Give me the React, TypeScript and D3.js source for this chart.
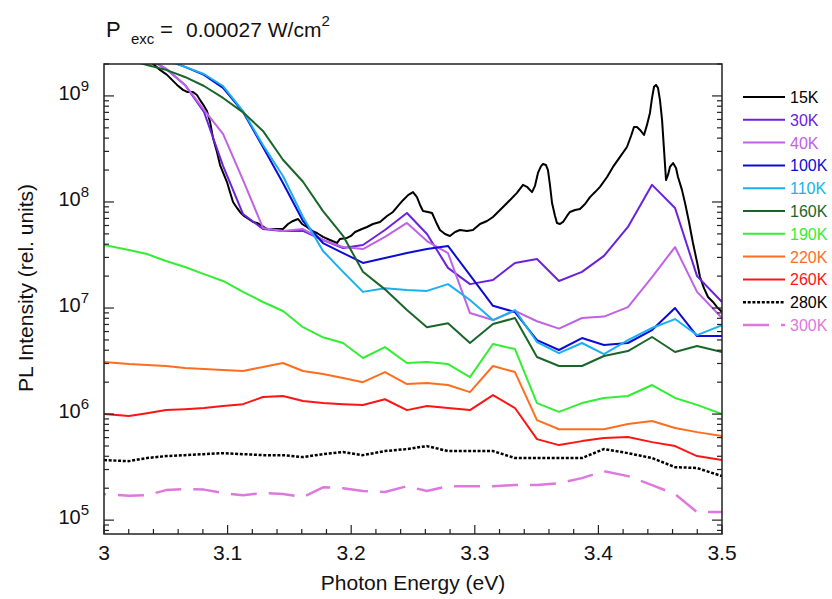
import React from 'react';
import * as d3 from 'd3';

// Shared photon-energy grid (eV) of the 30K–300K spectra
const energyGrid = [3.0, 3.0202, 3.0348, 3.0502, 3.0655, 3.0809, 3.0963, 3.1125, 3.1286, 3.1448, 3.161, 3.1772, 3.1934, 3.2095, 3.2273, 3.2451, 3.2613, 3.2783, 3.2961, 3.3147, 3.3325, 3.3503, 3.3681, 3.3867, 3.4045, 3.4239, 3.4434, 3.462, 3.4798, 3.5];

// 15K spectrum (high resolution)
const energy15K = [3.0291, 3.0388, 3.0453, 3.051, 3.0591, 3.0639, 3.0672, 3.072, 3.0752, 3.0777, 3.0809, 3.0833, 3.0858, 3.0882, 3.0914, 3.0939, 3.0971, 3.0995, 3.1019, 3.1044, 3.1076, 3.11, 3.1133, 3.1157, 3.1206, 3.1238, 3.1278, 3.1319, 3.1383, 3.1448, 3.1489, 3.1529, 3.157, 3.1602, 3.1642, 3.1683, 3.1723, 3.1772, 3.1828, 3.1885, 3.1909, 3.1966, 3.1998, 3.2031, 3.2087, 3.2128, 3.2176, 3.2233, 3.229, 3.2338, 3.2379, 3.2419, 3.246, 3.25, 3.2532, 3.2557, 3.2581, 3.2621, 3.2654, 3.2686, 3.2718, 3.2759, 3.2799, 3.284, 3.288, 3.2937, 3.2985, 3.3042, 3.3099, 3.3147, 3.3204, 3.3261, 3.3301, 3.3341, 3.339, 3.3422, 3.3463, 3.3487, 3.3511, 3.3536, 3.3552, 3.3576, 3.3592, 3.3608, 3.3625, 3.3649, 3.3665, 3.3689, 3.3714, 3.3746, 3.377, 3.3811, 3.3851, 3.3892, 3.3932, 3.3973, 3.4013, 3.407, 3.4118, 3.4175, 3.4231, 3.4264, 3.4288, 3.4312, 3.4337, 3.4369, 3.4393, 3.4417, 3.4434, 3.445, 3.4466, 3.4482, 3.4498, 3.4515, 3.4531, 3.4547, 3.4563, 3.4579, 3.4604, 3.4628, 3.4644, 3.4676, 3.4701, 3.4733, 3.4765, 3.4798, 3.4822, 3.4854, 3.4887, 3.4927, 3.496, 3.5];
const pl15K = [2.44e9, 2.05e9, 1.76e9, 1.58e9, 1.27e9, 1.14e9, 1.09e9, 1.09e9, 1.02e9, 9.17e8, 8.05e8, 7.22e8, 5.69e8, 4.02e8, 2.96e8, 2.23e8, 1.8e8, 1.54e8, 1.24e8, 1.0e8, 8.78e7, 8.05e7, 7.38e7, 7.06e7, 6.48e7, 6.34e7, 5.94e7, 5.56e7, 5.56e7, 5.56e7, 6.2e7, 6.62e7, 6.91e7, 6.2e7, 5.81e7, 5.33e7, 5.1e7, 4.68e7, 4.38e7, 4.1e7, 4.48e7, 4.58e7, 4.78e7, 5.21e7, 5.56e7, 5.81e7, 6.2e7, 6.48e7, 7.38e7, 8.05e7, 9.17e7, 1.04e8, 1.16e8, 1.24e8, 1.11e8, 9.37e7, 8.22e7, 8.05e7, 7.87e7, 6.48e7, 5.44e7, 4.99e7, 4.78e7, 5.21e7, 5.44e7, 5.33e7, 5.44e7, 6.2e7, 6.62e7, 7.22e7, 8.4e7, 9.78e7, 1.09e8, 1.22e8, 1.45e8, 1.39e8, 1.24e8, 1.42e8, 1.88e8, 2.18e8, 2.28e8, 2.23e8, 2.0e8, 1.45e8, 9.78e7, 7.38e7, 6.34e7, 6.2e7, 6.48e7, 7.38e7, 8.05e7, 8.4e7, 8.59e7, 9.57e7, 1.11e8, 1.24e8, 1.39e8, 1.72e8, 2.14e8, 2.66e8, 3.3e8, 4.19e8, 5.1e8, 5.1e8, 4.78e8, 4.28e8, 5.33e8, 6.91e8, 9.57e8, 1.22e9, 1.27e9, 1.19e9, 9.17e8, 5.94e8, 3.1e8, 1.61e8, 1.8e8, 2.14e8, 2.33e8, 2.09e8, 1.72e8, 1.3e8, 9.78e7, 6.48e7, 4.1e7, 2.72e7, 1.96e7, 1.54e7, 1.27e7, 1.14e7, 1.02e7, 9.17e6];

const pl30K = [3.4e9, 2.7e9, 2.28e9, 1.8e9, 1.27e9, 7.06e8, 2.19e8, 7.7e7, 5.56e7, 5.33e7, 5.33e7, 4.38e7, 3.68e7, 3.93e7, 5.44e7, 7.87e7, 4.99e7, 2.39e7, 1.68e7, 1.84e7, 2.66e7, 2.9e7, 1.8e7, 2.19e7, 3.1e7, 5.81e7, 1.45e8, 8.78e7, 2.0e7, 1.14e7];
const pl40K = [3.4e9, 2.7e9, 2.28e9, 1.8e9, 1.27e9, 7.38e8, 4.38e8, 1.61e8, 5.69e7, 5.33e7, 5.56e7, 4.38e7, 3.76e7, 3.6e7, 4.68e7, 6.34e7, 4.28e7, 3.3e7, 8.97e6, 7.7e6, 9.4e6, 7.5e6, 6.4e6, 8.05e6, 8.3e6, 1.02e7, 1.96e7, 3.76e7, 1.42e7, 8.05e6];
const pl100K = [3.76e9, 2.84e9, 2.44e9, 2.19e9, 1.88e9, 1.58e9, 1.19e9, 7.06e8, 3.3e8, 1.51e8, 6.62e7, 4.1e7, 3.3e7, 2.66e7, 2.96e7, 3.3e7, 3.6e7, 3.85e7, 2.04e7, 1.05e7, 9.17e6, 4.99e6, 4.02e6, 5.21e6, 4.48e6, 4.68e6, 6.2e6, 1.0e7, 5.44e6, 5.44e6];
const pl110K = [3.76e9, 2.84e9, 2.44e9, 2.19e9, 1.88e9, 1.61e9, 1.24e9, 7.2e8, 3.45e8, 1.76e8, 7.22e7, 3.45e7, 2.19e7, 1.42e7, 1.54e7, 1.48e7, 1.45e7, 1.68e7, 1.19e7, 7.7e6, 9.57e6, 4.78e6, 3.76e6, 4.68e6, 3.68e6, 4.99e6, 6.48e6, 7.87e6, 5.56e6, 6.9e6];
const pl160K = [2.55e9, 2.19e9, 1.96e9, 1.76e9, 1.51e9, 1.24e9, 9.57e8, 7.0e8, 4.68e8, 2.5e8, 1.55e8, 8.2e7, 4.8e7, 2.2e7, 1.5e7, 9.57e6, 6.6e6, 7.2e6, 4.68e6, 7.06e6, 8.05e6, 3.45e6, 2.84e6, 2.84e6, 3.53e6, 3.93e6, 5.33e6, 3.85e6, 4.38e6, 3.85e6];
const pl190K = [3.93e7, 3.53e7, 3.23e7, 2.78e7, 2.44e7, 2.09e7, 1.8e7, 1.42e7, 1.14e7, 9.37e6, 6.6e6, 5.3e6, 4.68e6, 3.38e6, 4.28e6, 3.03e6, 3.1e6, 2.96e6, 2.23e6, 4.58e6, 4.1e6, 1.27e6, 1.05e6, 1.27e6, 1.42e6, 1.48e6, 1.88e6, 1.42e6, 1.22e6, 1.0e6];
const pl220K = [3.1e6, 2.96e6, 2.9e6, 2.84e6, 2.72e6, 2.66e6, 2.6e6, 2.55e6, 2.78e6, 3.03e6, 2.55e6, 2.39e6, 2.19e6, 2.0e6, 2.49e6, 1.92e6, 1.96e6, 1.88e6, 1.61e6, 2.84e6, 2.49e6, 8.78e5, 7.2e5, 7.2e5, 7.2e5, 8.05e5, 8.6e5, 7.38e5, 6.76e5, 6.2e5];
const pl260K = [1.0e6, 9.57e5, 1.02e6, 1.09e6, 1.11e6, 1.14e6, 1.19e6, 1.24e6, 1.45e6, 1.48e6, 1.33e6, 1.27e6, 1.24e6, 1.22e6, 1.38e6, 1.09e6, 1.19e6, 1.14e6, 1.09e6, 1.51e6, 1.14e6, 5.81e5, 5.1e5, 5.56e5, 5.94e5, 6.07e5, 5.44e5, 4.99e5, 4.02e5, 3.68e5];
const pl280K = [3.68e5, 3.6e5, 3.85e5, 4.02e5, 4.1e5, 4.19e5, 4.28e5, 4.19e5, 4.1e5, 4.1e5, 3.93e5, 4.19e5, 4.38e5, 4.1e5, 4.48e5, 4.68e5, 4.99e5, 4.48e5, 4.48e5, 4.48e5, 3.85e5, 3.85e5, 3.85e5, 3.85e5, 4.68e5, 4.28e5, 3.85e5, 3.16e5, 3.1e5, 2.6e5];
const pl300K = [1.76e5, 1.7e5, 1.72e5, 1.92e5, 1.96e5, 1.94e5, 1.8e5, 1.72e5, 1.8e5, 1.76e5, 1.65e5, 2.04e5, 2.0e5, 1.88e5, 1.84e5, 2.09e5, 1.88e5, 2.09e5, 2.09e5, 2.09e5, 2.14e5, 2.14e5, 2.23e5, 2.49e5, 2.9e5, 2.6e5, 2.14e5, 1.76e5, 1.19e5, 1.19e5];

const seriesNames = ['15K', '30K', '40K', '100K', '110K', '160K', '190K', '220K', '260K', '280K', '300K'];
const seriesEnergies = [energy15K, energyGrid, energyGrid, energyGrid, energyGrid, energyGrid, energyGrid, energyGrid, energyGrid, energyGrid, energyGrid];
const seriesValues = [pl15K, pl30K, pl40K, pl100K, pl110K, pl160K, pl190K, pl220K, pl260K, pl280K, pl300K];
const seriesColors = ['#000000', '#6a22dd', '#c062e6', '#0c0cd4', '#1ab0f0', '#19662a', '#33ee33', '#ff6e1e', '#ff1414', '#000000', '#de78de'];
const seriesDash = ['', '', '', '', '', '', '', '', '', '3 1.7', '26 12'];

const xMajorTicks = [3, 3.1, 3.2, 3.3, 3.4, 3.5];
const xTickLabels = ['3', '3.1', '3.2', '3.3', '3.4', '3.5'];
const yDecadeExponents = [5, 6, 7, 8, 9];

const FONT = '"Liberation Sans", Arial, Helvetica, sans-serif';

export default function App() {
  const left = 104, right = 722, top = 64, bottom = 534;
  const x = d3.scaleLinear().domain([3, 3.5]).range([left, right]);
  const y = d3.scaleLog().domain([7.4e4, 2.0e9]).range([bottom, top]);
  const line = d3.line<[number, number]>().x(d => x(d[0])).y(d => y(d[1]));

  const xMinor = d3.range(0, 26).map(i => 3 + i * 0.02);
  const yMinor: number[] = [];
  for (let e = 4; e <= 9; e++) {
    for (let m = 2; m <= 9; m++) {
      const v = m * Math.pow(10, e);
      if (v >= 7.4e4 && v <= 2.0e9) yMinor.push(v);
    }
  }

  const legendX = 743, legendY0 = 97, legendDy = 22.8;

  return (
    <svg width={832} height={599} style={{ position: 'absolute', left: 0, top: 0, background: '#fff' }} fontFamily={FONT}>
      <defs>
        <clipPath id="plotClip">
          <rect x={left} y={top} width={right - left} height={bottom - top} />
        </clipPath>
      </defs>
      <rect x={0} y={0} width={832} height={599} fill="#fff" />

      {/* title */}
      <text y={37} fontSize={22} fill="#111">
        <tspan x={106}>P</tspan>
        <tspan x={131} dy={7} fontSize={15}>exc</tspan>
        <tspan x={160} dy={-7}>=</tspan>
        <tspan x={186} fontSize={21}>0.00027 W/cm</tspan>
        <tspan dy={-11} fontSize={15}>2</tspan>
      </text>

      {/* data */}
      <g clipPath="url(#plotClip)">
        {seriesNames.map((name, i) => {
          const pts: [number, number][] = seriesEnergies[i].map((e, k) => [e, seriesValues[i][k]] as [number, number]).filter(p => p[1] !== undefined);
          return (
            <path key={name} d={line(pts) || ''} fill="none" stroke={seriesColors[i]}
              strokeWidth={i >= 9 ? 2.5 : 2} strokeDasharray={seriesDash[i] || undefined}
              strokeDashoffset={i === 10 ? 24 : 0} strokeLinejoin="round" />
          );
        })}
      </g>

      {/* frame */}
      <rect x={left} y={top} width={right - left} height={bottom - top} fill="none" stroke="#222" strokeWidth={1.5} />

      {/* x ticks */}
      {xMinor.map((t, i) => {
        const major = xMajorTicks.some(m => Math.abs(m - t) < 1e-6);
        return <line key={'xt' + i} x1={x(t)} x2={x(t)} y1={bottom} y2={bottom - (major ? 9 : 5)} stroke="#222" strokeWidth={1.2} />;
      })}
      {xMajorTicks.map((t, i) => (
        <text key={'xl' + i} x={x(t)} y={560} fontSize={21} textAnchor="middle" fill="#111">{xTickLabels[i]}</text>
      ))}

      {/* y ticks left & right */}
      {yDecadeExponents.map(e => {
        const yy = y(Math.pow(10, e));
        return (
          <g key={'yd' + e}>
            <line x1={left} x2={left + 10} y1={yy} y2={yy} stroke="#222" strokeWidth={1.2} />
            <line x1={right} x2={right - 10} y1={yy} y2={yy} stroke="#222" strokeWidth={1.2} />
            <text x={89} y={yy + 4} fontSize={20} textAnchor="end" fill="#111">
              10<tspan dy={-9} fontSize={15}>{e}</tspan>
            </text>
          </g>
        );
      })}
      {yMinor.map((v, i) => (
        <g key={'ym' + i}>
          <line x1={left} x2={left + 5} y1={y(v)} y2={y(v)} stroke="#222" strokeWidth={1.2} />
          <line x1={right} x2={right - 5} y1={y(v)} y2={y(v)} stroke="#222" strokeWidth={1.2} />
        </g>
      ))}

      {/* axis titles */}
      <text x={413} y={590} fontSize={21} textAnchor="middle" fill="#111">Photon Energy (eV)</text>
      <text transform="translate(33,288) rotate(-90)" fontSize={21} textAnchor="middle" fill="#111">PL Intensity (rel. units)</text>

      {/* legend */}
      {seriesNames.map((name, i) => {
        const ly = legendY0 + i * legendDy;
        return (
          <g key={'lg' + name}>
            <line x1={legendX} x2={legendX + 42} y1={ly} y2={ly} stroke={seriesColors[i]}
              strokeWidth={i >= 9 ? 2.5 : 2} strokeDasharray={seriesDash[i] || undefined} />
            <text x={790} y={ly + 6} fontSize={16} fill={seriesColors[i]}>{name}</text>
          </g>
        );
      })}
    </svg>
  );
}
